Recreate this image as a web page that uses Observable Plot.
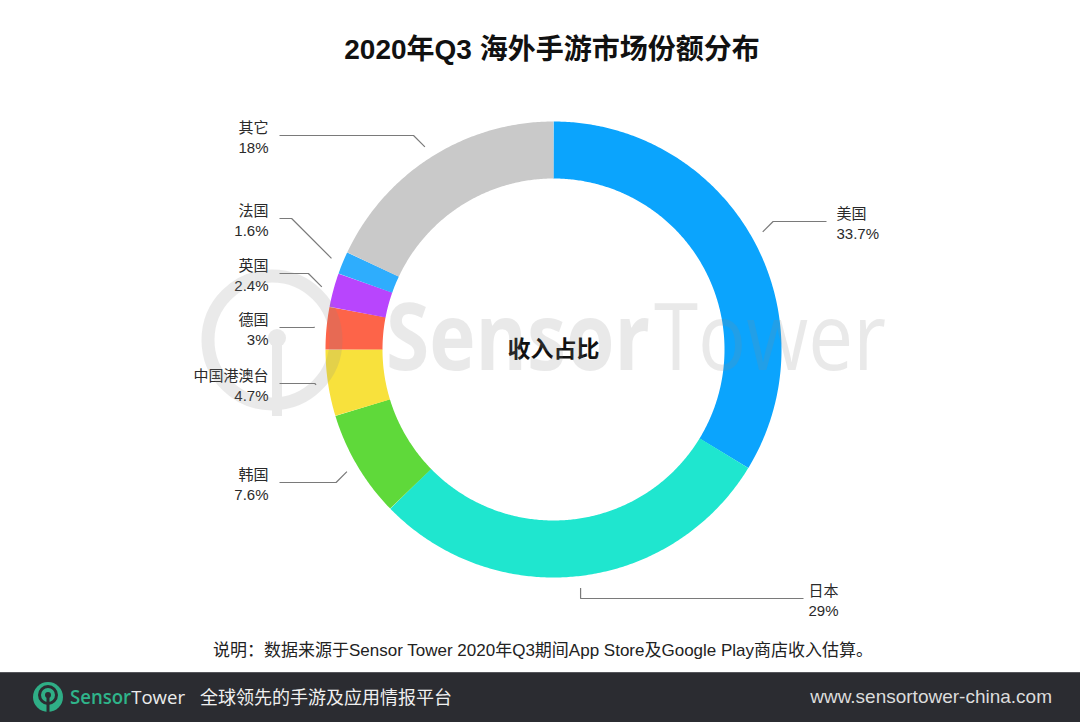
<!DOCTYPE html>
<html><head><meta charset="utf-8">
<script src="https://cdn.jsdelivr.net/npm/d3@7"></script>
<script src="https://cdn.jsdelivr.net/npm/@observablehq/plot@0.6"></script>
<style>
html,body{margin:0;padding:0;background:#fff;}
body{width:1080px;height:722px;position:relative;overflow:hidden;font-family:"Liberation Sans","Noto Sans CJK SC",sans-serif;}
#title{position:absolute;left:12px;top:0;width:1080px;height:100px;line-height:100px;text-align:center;font-size:28px;font-weight:bold;color:#111;}
#chart{position:absolute;left:0;top:95px;}
#wm{position:absolute;left:0;top:0;pointer-events:none;}
#caption{position:absolute;left:213px;top:640px;white-space:nowrap;font-size:17px;line-height:22px;color:#222;}
#footer{position:absolute;left:0;top:672px;width:1080px;height:50px;background:#2b2c31;border-top:1px solid #55565b;box-sizing:border-box;}
</style></head>
<body>
<div id="title">2020年Q3 海外手游市场份额分布</div>
<div id="chart"></div>
<svg id="wm" width="1080" height="722">
  <g fill="#8a8a8a" opacity="0.18">
    <circle cx="272" cy="340" r="64" fill="none" stroke="#8a8a8a" stroke-width="13"/>
    <circle cx="277" cy="338" r="9"/>
    <rect x="272" y="338" width="10" height="78"/>
    <text x="386" y="370" font-family="Open Sans" font-weight="700" font-size="94" textLength="264" lengthAdjust="spacingAndGlyphs">Sensor</text>
    <text x="654" y="370" font-family="Open Sans" font-weight="400" font-size="94" textLength="232" lengthAdjust="spacingAndGlyphs">Tower</text>
  </g>
</svg>
<div id="caption">说明：数据来源于Sensor Tower 2020年Q3期间App Store及Google Play商店收入估算。</div>
<div id="footer">
  <svg width="1080" height="50">
    <circle cx="48" cy="24" r="15" fill="#2fae86"/>
    <circle cx="48" cy="22" r="8.5" fill="none" stroke="#2b2c31" stroke-width="3"/>
    <circle cx="48" cy="22" r="3" fill="#2b2c31"/>
    <rect x="46.5" y="22" width="3" height="18" fill="#2b2c31"/>
    <text x="70" y="31" font-family="Open Sans" font-size="19" font-weight="600" fill="#2fb48a" textLength="115" lengthAdjust="spacingAndGlyphs">Sensor<tspan fill="#ececec" font-weight="400">Tower</tspan></text>
    <text x="200" y="31" font-family="Noto Sans CJK SC" font-size="18" fill="#f0f0f0">全球领先的手游及应用情报平台</text>
    <text x="1052" y="30" text-anchor="end" font-family="Liberation Sans" font-size="19" fill="#dcdcdc">www.sensortower-china.com</text>
  </svg>
</div>
<script>
// ---- data ----
const regions = ["美国", "日本", "韩国", "中国港澳台", "德国", "英国", "法国", "其它"];
const shares = [33.7, 29, 7.6, 4.7, 3, 2.4, 1.6, 18];
const colors = ["#0ba4fd", "#1fe6cf", "#5fd93a", "#f8e13c", "#fd6449", "#b845fd", "#2eadfd", "#c9c9c9"];

// ---- layout (not data) ----
const CX = 553, CY = 349, R_IN = 171, R_OUT = 228, R_LEAD = 240;
const labelSide = ["right", "right", "left", "left", "left", "left", "left", "left"];
const labelLineY = [221, 598, 482, 383, 327, 273, 218, 135];
const labelEndX = [826, 803, 279, 279, 279, 279, 279, 279];
const labelTextX = [836, 808, 268, 268, 268, 268, 268, 268];
const labelVertical = [false, true, false, false, false, false, false, false];

const pie = d3.pie().sort(null).value(d => d.share);
const slices = pie(regions.map((name, i) => ({name, share: shares[i], color: colors[i]})));

const RM = (R_IN + R_OUT) / 2;
const arcPts = [];
for (const s of slices) {
  const n = Math.max(2, Math.ceil((s.endAngle - s.startAngle) / (Math.PI / 360)));
  for (let k = 0; k <= n; k++) {
    const a = s.startAngle + (s.endAngle - s.startAngle) * k / n;
    arcPts.push({name: s.data.name, color: s.data.color, x: CX + RM * Math.sin(a), y: CY - RM * Math.cos(a)});
  }
}

const leaders = [];
const labels = [];
slices.forEach((s, i) => {
  const m = (s.startAngle + s.endAngle) / 2;
  const px = CX + R_LEAD * Math.sin(m), py = CY - R_LEAD * Math.cos(m);
  const ly = labelLineY[i];
  let ex;
  if (labelVertical[i]) ex = px;
  else ex = px + (labelSide[i] === "left" ? -1 : 1) * Math.abs(ly - py);
  leaders.push({name: s.data.name, x: px, y: py});
  leaders.push({name: s.data.name, x: ex, y: ly});
  leaders.push({name: s.data.name, x: labelEndX[i], y: ly});
  labels.push({text: s.data.name + "\n" + s.data.share + "%", x: labelTextX[i], y: ly + 1, anchor: labelSide[i] === "left" ? "end" : "start"});
});

const chart = Plot.plot({
  width: 1080,
  height: 535,
  margin: 0,
  x: {domain: [0, 1080], range: [0, 1080], axis: null},
  y: {domain: [95, 630], range: [0, 535], axis: null},
  style: {background: "transparent", fontFamily: "'Liberation Sans','Noto Sans CJK SC',sans-serif", overflow: "visible"},
  marks: [
    Plot.line(arcPts, {x: "x", y: "y", z: "name", stroke: "color", strokeWidth: R_OUT - R_IN, strokeLinecap: "butt", strokeLinejoin: "round"}),
    Plot.line(leaders, {x: "x", y: "y", z: "name", stroke: "#7a7a7a", strokeWidth: 1.2, strokeLinecap: "butt", strokeLinejoin: "miter"}),
    Plot.text(labels.filter(d => d.anchor === "end"), {x: "x", y: "y", text: "text", textAnchor: "end", fontSize: 15, lineHeight: 1.34, fill: "#2a2a2a"}),
    Plot.text(labels.filter(d => d.anchor === "start"), {x: "x", y: "y", text: "text", textAnchor: "start", fontSize: 15, lineHeight: 1.34, fill: "#2a2a2a"}),
    Plot.text(["收入占比"], {x: () => CX, y: () => CY, text: d => d, fontSize: 23, fontWeight: "bold", fill: "#111"})
  ]
});
document.getElementById("chart").appendChild(chart);
</script>
</body></html>
